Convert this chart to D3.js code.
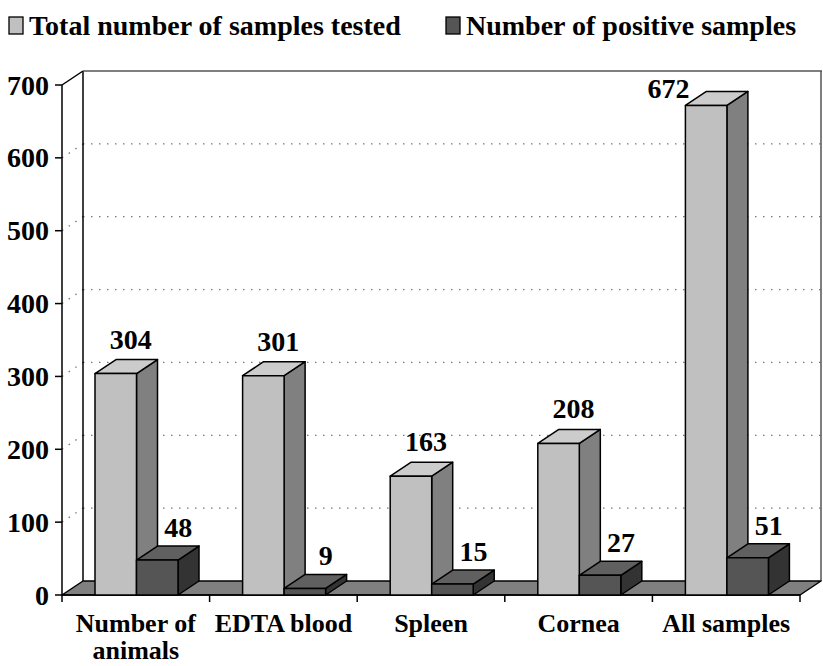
<!DOCTYPE html>
<html><head><meta charset="utf-8">
<script src="https://cdn.jsdelivr.net/npm/d3@7"></script>
<style>body{margin:0;background:#fff}svg{display:block}</style>
</head><body>
<svg id="c" width="823" height="666"></svg>
<script>
const categories = [["Number of","animals"],["EDTA blood"],["Spleen"],["Cornea"],["All samples"]];
const seriesNames = ["Total number of samples tested","Number of positive samples"];
const totalTested = [304, 301, 163, 208, 672];
const positive = [48, 9, 15, 27, 51];
const yTicks = [0,100,200,300,400,500,600,700];

const svg = d3.select("#c");
const FONT = "Liberation Serif";
const DX = 21, DY = -14;
const x0 = 62, x1 = 800, yBase = 595, yTop = 85;
const catKeys = categories.map((d,i)=>i);
const x = d3.scaleBand().domain(catKeys).range([x0,x1]);
const bw = x.bandwidth();
const xs = d3.scaleBand().domain([0,1]).range([0.2236*bw, 0.786*bw]);
const y = d3.scaleLinear().domain([0,700]).range([yBase,yTop]);

const styles = [
  {front:"#c0c0c0", side:"#808080", top:"#cccccc"},
  {front:"#555555", side:"#333333", top:"#606060"}
];

const grid = svg.append("g");
yTicks.filter(v=>v>0 && v<700).forEach(v=>{
  grid.append("line").attr("x1",x0+DX).attr("x2",x1+DX).attr("y1",y(v)+DY).attr("y2",y(v)+DY)
    .attr("stroke","#777").attr("stroke-width",1.3).attr("stroke-dasharray","1.5,6.5");
  grid.append("line").attr("x1",x0).attr("x2",x0+DX).attr("y1",y(v)).attr("y2",y(v)+DY)
    .attr("stroke","#777").attr("stroke-width",1.3).attr("stroke-dasharray","1.5,6.5");
});
svg.append("line").attr("x1",x0+DX).attr("x2",x0+DX).attr("y1",y(700)+DY).attr("y2",yBase+DY).attr("stroke","#000").attr("stroke-width",1.5);
svg.append("line").attr("x1",x0+DX).attr("x2",x1+DX+1).attr("y1",y(700)+DY).attr("y2",y(700)+DY).attr("stroke","#555").attr("stroke-width",1.5);
svg.append("line").attr("x1",x1+DX).attr("x2",x1+DX).attr("y1",y(700)+DY).attr("y2",yBase+DY).attr("stroke","#555").attr("stroke-width",1.5);

svg.append("path").attr("d",`M${x0},${yBase}L${x1},${yBase}L${x1+DX},${yBase+DY}L${x0+DX},${yBase+DY}Z`)
  .attr("fill","#808080").attr("stroke","#000").attr("stroke-width",1.5).attr("stroke-linejoin","round");

svg.append("line").attr("x1",x0).attr("x2",x0).attr("y1",y(700)).attr("y2",yBase).attr("stroke","#000").attr("stroke-width",1.5);
svg.append("line").attr("x1",x0).attr("x2",x0+DX).attr("y1",y(700)).attr("y2",y(700)+DY).attr("stroke","#000").attr("stroke-width",1.5);
yTicks.forEach(v=>{
  svg.append("line").attr("x1",x0-7).attr("x2",x0).attr("y1",y(v)).attr("y2",y(v)).attr("stroke","#000").attr("stroke-width",1.5);
  svg.append("text").attr("x",x0-13).attr("y",y(v)).attr("dy","0.34em").attr("text-anchor","end")
    .attr("font-family",FONT).attr("font-weight","bold").attr("font-size",28).text(v);
});
svg.append("line").attr("x1",x0).attr("x2",x1).attr("y1",yBase).attr("y2",yBase).attr("stroke","#000").attr("stroke-width",1.5);
catKeys.concat([categories.length]).forEach(i=>{
  const xx = i<categories.length ? x(i) : x1;
  svg.append("line").attr("x1",xx).attr("x2",xx).attr("y1",yBase).attr("y2",yBase+7).attr("stroke","#000").attr("stroke-width",1.5);
});

const bars = svg.append("g");
const labels = [];
catKeys.forEach(i=>{
  [totalTested[i], positive[i]].forEach((val,s)=>{
    const L = x(i)+xs(s), R = L+xs.bandwidth(), T = y(val), B = yBase;
    const st = styles[s];
    const g = bars.append("g").attr("stroke","#000").attr("stroke-width",1.5).attr("stroke-linejoin","round");
    g.append("path").attr("d",`M${R},${B}L${R+DX},${B+DY}L${R+DX},${T+DY}L${R},${T}Z`).attr("fill",st.side);
    g.append("path").attr("d",`M${L},${T}L${R},${T}L${R+DX},${T+DY}L${L+DX},${T+DY}Z`).attr("fill",st.top);
    g.append("rect").attr("x",L).attr("y",T).attr("width",R-L).attr("height",B-T).attr("fill",st.front);
    const cx = (L+R)/2;
    let lx, ly, anchor = "middle";
    if (s===0) { lx = cx+15; ly = T+DY-11; }
    else { lx = cx+21; ly = T+DY-9; }
    if (ly-20 < y(700)+DY) { lx = L+4; ly = T-7; anchor = "end"; }
    labels.push({lx,ly,anchor,val});
  });
});
svg.append("g").selectAll("text").data(labels).join("text")
  .attr("x",d=>d.lx).attr("y",d=>d.ly).attr("text-anchor",d=>d.anchor)
  .attr("font-family",FONT).attr("font-weight","bold").attr("font-size",28).text(d=>d.val);

catKeys.forEach(i=>{
  const t = svg.append("text").attr("text-anchor","middle").attr("font-family",FONT).attr("font-weight","bold").attr("font-size",26);
  categories[i].forEach((line,j)=>{
    t.append("tspan").attr("x",x(i)+bw/2).attr("y",632+j*27).text(line);
  });
});

const leg = [{x:9, fill:styles[0].front},{x:446, fill:styles[1].front}];
leg.forEach((d,k)=>{
  svg.append("rect").attr("x",d.x).attr("y",17).attr("width",14).attr("height",17).attr("fill",d.fill).attr("stroke","#000").attr("stroke-width",1.3);
  svg.append("text").attr("x",d.x+20).attr("y",35).attr("font-family",FONT).attr("font-weight","bold").attr("font-size",28).text(seriesNames[k]);
});
</script>
</body></html>
